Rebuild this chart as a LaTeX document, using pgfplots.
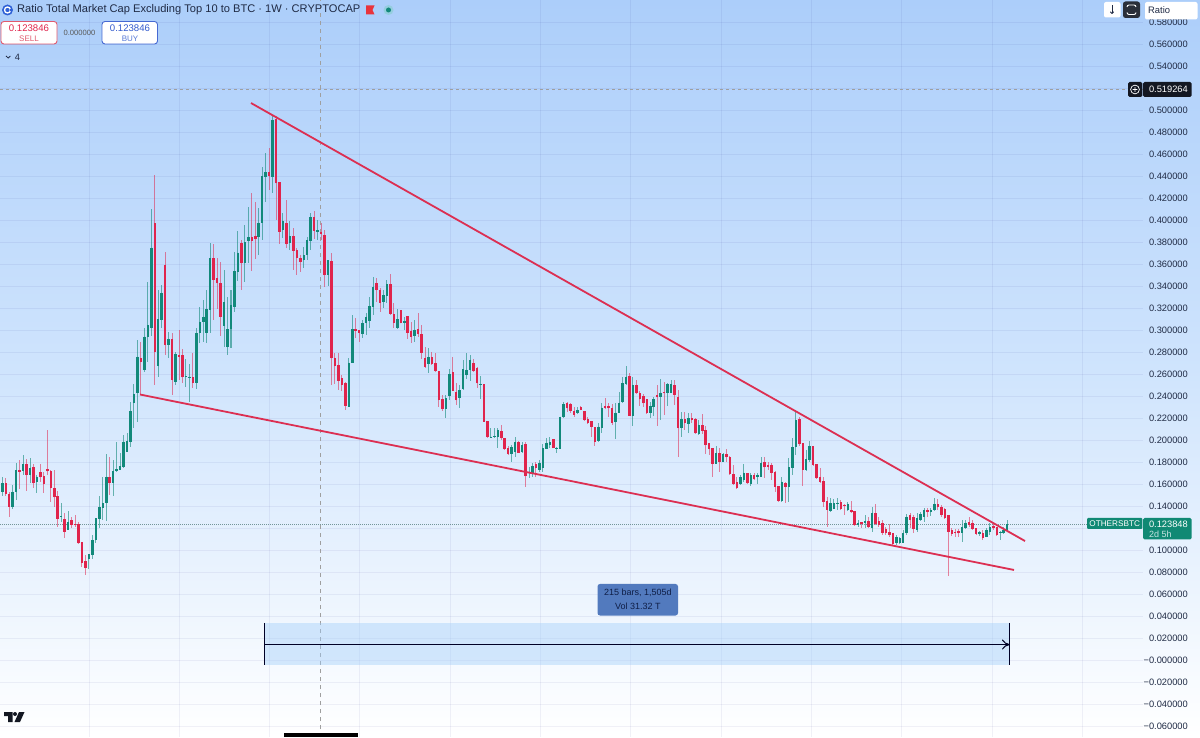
\documentclass[border=0pt]{standalone}
\usepackage{pgfplots}
\usepackage{pgfplotstable}
\usepackage{fontspec}
\setmainfont{Liberation Sans}
\pgfplotsset{compat=1.18}
\usetikzlibrary{arrows.meta}
\definecolor{upc}{HTML}{12897A}
\definecolor{dnc}{HTML}{E0244C}
\definecolor{tl}{HTML}{DC2F52}
\definecolor{txt}{HTML}{1F2A44}
\pgfplotstableread{
x o h l c
0 0.1535 0.1665 0.1495 0.1610
1 0.1610 0.1656 0.1495 0.1513
2 0.1513 0.1535 0.1307 0.1398
3 0.1392 0.1595 0.1374 0.1535
4 0.1535 0.1792 0.1459 0.1731
5 0.1731 0.1822 0.1556 0.1716
6 0.1725 0.1868 0.1686 0.1786
7 0.1786 0.1829 0.1544 0.1686
8 0.1686 0.1838 0.1610 0.1753
9 0.1762 0.1786 0.1565 0.1610
10 0.1619 0.1686 0.1525 0.1671
11 0.1716 0.1783 0.1625 0.1665
12 0.1677 0.1716 0.1520 0.1604
13 0.1738 0.2095 0.1686 0.1720
14 0.1725 0.1731 0.1444 0.1568
15 0.1568 0.1731 0.1392 0.1483
16 0.1495 0.1544 0.1210 0.1289
17 0.1301 0.1435 0.1262 0.1313
18 0.1289 0.1338 0.1110 0.1171
19 0.1186 0.1362 0.1186 0.1262
20 0.1277 0.1301 0.1201 0.1232
21 0.1241 0.1322 0.1216 0.1232
22 0.1238 0.1262 0.1059 0.1065
23 0.1080 0.1080 0.0853 0.0889
24 0.0904 0.0959 0.0777 0.0844
25 0.0920 0.0965 0.0829 0.0965
26 0.0959 0.1141 0.0920 0.1095
27 0.1095 0.1292 0.1065 0.1292
28 0.1283 0.1495 0.1207 0.1392
29 0.1383 0.1665 0.1277 0.1428
30 0.1428 0.1877 0.1271 0.1671
31 0.1671 0.1853 0.1504 0.1610
32 0.1616 0.1822 0.1495 0.1725
33 0.1725 0.1989 0.1716 0.1738
34 0.1731 0.1889 0.1731 0.1768
35 0.1762 0.2050 0.1747 0.1989
36 0.1898 0.2071 0.1898 0.1998
37 0.1990 0.2353 0.1938 0.2269
38 0.2338 0.2511 0.2111 0.2423
39 0.2429 0.2913 0.2172 0.2763
40 0.2747 0.2898 0.2414 0.2717
41 0.2641 0.3020 0.2626 0.2944
42 0.2943 0.3443 0.2716 0.3050
43 0.3020 0.4101 0.2950 0.3753
44 0.3974 0.4413 0.2504 0.2807
45 0.2677 0.3368 0.2580 0.3101
46 0.3095 0.3413 0.3019 0.3343
47 0.3595 0.3716 0.2777 0.2868
48 0.2868 0.2989 0.2747 0.2923
49 0.2923 0.2974 0.2413 0.2550
50 0.2535 0.2800 0.2505 0.2786
51 0.2777 0.3004 0.2550 0.2762
52 0.2777 0.2829 0.2520 0.2574
53 0.2574 0.2738 0.2483 0.2586
54 0.2570 0.2695 0.2353 0.2580
55 0.2574 0.2792 0.2474 0.2525
56 0.2520 0.3020 0.2465 0.2974
57 0.2974 0.3216 0.2883 0.3080
58 0.3074 0.3277 0.2898 0.3126
59 0.2974 0.3368 0.2883 0.3195
60 0.3186 0.3797 0.2974 0.3656
61 0.3656 0.3786 0.3095 0.3459
62 0.3480 0.3656 0.3192 0.3428
63 0.3428 0.3625 0.2950 0.3126
64 0.3040 0.3549 0.2853 0.3260
65 0.2853 0.3307 0.2777 0.3010
66 0.3010 0.3368 0.2838 0.3231
67 0.3216 0.3716 0.3171 0.3540
68 0.3534 0.3904 0.3449 0.3707
69 0.3792 0.3825 0.3368 0.3610
70 0.3610 0.3958 0.3440 0.3801
71 0.3816 0.4125 0.3610 0.3847
72 0.3847 0.4253 0.3543 0.3816
73 0.3859 0.4171 0.3646 0.3828
74 0.3846 0.4110 0.3686 0.3980
75 0.3980 0.4489 0.3822 0.4404
76 0.4398 0.4610 0.4171 0.4437
77 0.4437 0.4656 0.4277 0.4404
78 0.4398 0.4959 0.4253 0.4913
79 0.4919 0.4950 0.4004 0.4337
80 0.4353 0.4353 0.3786 0.3898
81 0.3913 0.4065 0.3837 0.3998
82 0.3974 0.4186 0.3747 0.3786
83 0.3792 0.3998 0.3731 0.3859
84 0.3859 0.3928 0.3550 0.3725
85 0.3731 0.3747 0.3504 0.3662
86 0.3656 0.3686 0.3534 0.3625
87 0.3641 0.3762 0.3565 0.3686
88 0.3686 0.3853 0.3640 0.3822
89 0.3816 0.4065 0.3731 0.4034
90 0.4034 0.4090 0.3828 0.3907
91 0.3898 0.4004 0.3822 0.3913
92 0.3898 0.3980 0.3822 0.3874
93 0.3868 0.3913 0.3392 0.3504
94 0.3504 0.3640 0.3404 0.3640
95 0.3631 0.3701 0.2505 0.2747
96 0.2747 0.2799 0.2514 0.2677
97 0.2686 0.2799 0.2459 0.2544
98 0.2565 0.2596 0.2453 0.2505
99 0.2520 0.2529 0.2277 0.2314
100 0.2302 0.2747 0.2302 0.2708
101 0.2708 0.3141 0.2700 0.3011
102 0.3011 0.3110 0.2929 0.2999
103 0.3005 0.3005 0.2893 0.2981
104 0.2968 0.3096 0.2929 0.3065
105 0.3065 0.3156 0.2959 0.3126
106 0.3089 0.3302 0.3020 0.3223
107 0.3217 0.3483 0.3141 0.3399
108 0.3430 0.3474 0.3262 0.3368
109 0.3368 0.3383 0.3171 0.3253
110 0.3262 0.3368 0.3201 0.3323
111 0.3314 0.3459 0.3247 0.3420
112 0.3420 0.3514 0.3141 0.3150
113 0.3150 0.3247 0.3020 0.3071
114 0.3020 0.3192 0.3014 0.3101
115 0.3186 0.3186 0.3065 0.3065
116 0.3071 0.3126 0.3005 0.3089
117 0.3132 0.3132 0.2920 0.2981
118 0.2999 0.3080 0.2890 0.2944
119 0.2950 0.3095 0.2899 0.3005
120 0.3011 0.3156 0.2938 0.2968
121 0.2968 0.3050 0.2738 0.2799
122 0.2747 0.2853 0.2656 0.2671
123 0.2695 0.2838 0.2617 0.2756
124 0.2762 0.2808 0.2686 0.2695
125 0.2708 0.2793 0.2626 0.2635
126 0.2635 0.2635 0.2308 0.2368
127 0.2374 0.2414 0.2271 0.2283
128 0.2283 0.2414 0.2202 0.2383
129 0.2405 0.2647 0.2368 0.2605
130 0.2620 0.2762 0.2450 0.2450
131 0.2444 0.2520 0.2323 0.2368
132 0.2383 0.2505 0.2292 0.2459
133 0.2468 0.2732 0.2459 0.2647
134 0.2595 0.2799 0.2556 0.2641
135 0.2641 0.2777 0.2544 0.2732
136 0.2701 0.2738 0.2626 0.2635
137 0.2662 0.2671 0.2474 0.2520
138 0.2505 0.2586 0.2374 0.2514
139 0.2514 0.2514 0.2171 0.2171
140 0.2180 0.2180 0.2026 0.2035
141 0.2026 0.2110 0.2020 0.2035
142 0.2029 0.2110 0.2020 0.2042
143 0.2029 0.2110 0.1929 0.2096
144 0.2090 0.2141 0.2005 0.2020
145 0.2020 0.2020 0.1914 0.1920
146 0.1929 0.1953 0.1868 0.1877
147 0.1877 0.1960 0.1808 0.1938
148 0.1898 0.2035 0.1853 0.1989
149 0.1989 0.1995 0.1889 0.1889
150 0.1898 0.1989 0.1889 0.1959
151 0.1968 0.1989 0.1574 0.1677
152 0.1702 0.1762 0.1656 0.1717
153 0.1702 0.1798 0.1671 0.1768
154 0.1786 0.1808 0.1671 0.1747
155 0.1732 0.1823 0.1717 0.1792
156 0.1747 0.1968 0.1717 0.1929
157 0.1923 0.2020 0.1923 0.1980
158 0.1959 0.2029 0.1929 0.1989
159 0.2011 0.2011 0.1929 0.1929
160 0.1926 0.1938 0.1889 0.1936
161 0.1926 0.2217 0.1926 0.2217
162 0.2217 0.2353 0.2202 0.2329
163 0.2338 0.2353 0.2262 0.2293
164 0.2329 0.2344 0.2247 0.2271
165 0.2271 0.2308 0.2217 0.2232
166 0.2247 0.2308 0.2241 0.2277
167 0.2308 0.2314 0.2277 0.2277
168 0.2271 0.2271 0.2180 0.2186
169 0.2192 0.2217 0.2150 0.2156
170 0.2180 0.2180 0.2035 0.2126
171 0.2126 0.2126 0.1950 0.1989
172 0.1998 0.2156 0.1989 0.2126
173 0.2117 0.2338 0.2065 0.2299
174 0.2317 0.2383 0.2290 0.2299
175 0.2314 0.2344 0.2217 0.2293
176 0.2293 0.2332 0.2141 0.2162
177 0.2171 0.2338 0.2011 0.2253
178 0.2253 0.2444 0.2247 0.2344
179 0.2353 0.2580 0.2338 0.2520
180 0.2514 0.2677 0.2505 0.2580
181 0.2586 0.2611 0.2223 0.2223
182 0.2223 0.2580 0.2135 0.2505
183 0.2505 0.2550 0.2420 0.2429
184 0.2429 0.2453 0.2314 0.2374
185 0.2405 0.2420 0.2308 0.2338
186 0.2374 0.2374 0.2241 0.2247
187 0.2247 0.2353 0.2202 0.2317
188 0.2302 0.2399 0.2223 0.2374
189 0.2414 0.2505 0.2132 0.2393
190 0.2399 0.2556 0.2187 0.2435
191 0.2444 0.2535 0.2232 0.2429
192 0.2429 0.2526 0.2314 0.2514
193 0.2435 0.2550 0.2429 0.2514
194 0.2505 0.2550 0.2323 0.2414
195 0.2399 0.2459 0.1853 0.2111
196 0.2111 0.2262 0.2035 0.2193
197 0.2193 0.2262 0.2096 0.2156
198 0.2150 0.2247 0.2071 0.2202
199 0.2202 0.2253 0.2156 0.2187
200 0.2193 0.2202 0.2059 0.2065
201 0.2059 0.2187 0.2050 0.2141
202 0.2141 0.2241 0.2059 0.2090
203 0.2096 0.2132 0.1878 0.1959
204 0.1974 0.1974 0.1868 0.1920
205 0.1929 0.1929 0.1672 0.1787
206 0.1787 0.1950 0.1787 0.1890
207 0.1890 0.1929 0.1717 0.1808
208 0.1808 0.1890 0.1808 0.1878
209 0.1878 0.1920 0.1808 0.1847
210 0.1853 0.1859 0.1687 0.1696
211 0.1696 0.1778 0.1596 0.1605
212 0.1626 0.1672 0.1556 0.1565
213 0.1605 0.1687 0.1596 0.1665
214 0.1641 0.1787 0.1626 0.1708
215 0.1702 0.1708 0.1605 0.1611
216 0.1605 0.1702 0.1587 0.1687
217 0.1687 0.1702 0.1641 0.1647
218 0.1665 0.1702 0.1605 0.1687
219 0.1672 0.1847 0.1665 0.1799
220 0.1808 0.1847 0.1656 0.1756
221 0.1778 0.1808 0.1732 0.1762
222 0.1778 0.1793 0.1641 0.1708
223 0.1717 0.1726 0.1535 0.1575
224 0.1587 0.1587 0.1444 0.1453
225 0.1453 0.1672 0.1444 0.1626
226 0.1617 0.1626 0.1435 0.1581
227 0.1581 0.1838 0.1444 0.1756
228 0.1747 0.2020 0.1687 0.1938
229 0.1938 0.2262 0.1868 0.2187
230 0.2193 0.2217 0.1950 0.1968
231 0.1974 0.1974 0.1587 0.1732
232 0.1732 0.1914 0.1726 0.1832
233 0.1823 0.1999 0.1808 0.1950
234 0.1950 0.1950 0.1768 0.1778
235 0.1787 0.1787 0.1647 0.1656
236 0.1672 0.1747 0.1617 0.1626
237 0.1635 0.1672 0.1399 0.1444
238 0.1453 0.1484 0.1217 0.1369
239 0.1362 0.1475 0.1353 0.1429
240 0.1375 0.1465 0.1375 0.1429
241 0.1423 0.1475 0.1369 0.1435
242 0.1444 0.1459 0.1369 0.1375
243 0.1414 0.1423 0.1323 0.1405
244 0.1369 0.1444 0.1362 0.1423
245 0.1369 0.1453 0.1338 0.1347
246 0.1359 0.1359 0.1223 0.1232
247 0.1232 0.1278 0.1211 0.1253
248 0.1259 0.1263 0.1202 0.1241
249 0.1253 0.1323 0.1202 0.1272
250 0.1272 0.1308 0.1202 0.1211
251 0.1202 0.1399 0.1172 0.1344
252 0.1344 0.1423 0.1232 0.1241
253 0.1272 0.1308 0.1217 0.1232
254 0.1247 0.1278 0.1141 0.1163
255 0.1193 0.1217 0.1141 0.1156
256 0.1172 0.1241 0.1126 0.1141
257 0.1156 0.1163 0.1050 0.1060
258 0.1066 0.1141 0.1050 0.1120
259 0.1072 0.1126 0.1060 0.1111
260 0.1072 0.1187 0.1066 0.1163
261 0.1156 0.1332 0.1141 0.1308
262 0.1323 0.1344 0.1202 0.1278
263 0.1308 0.1323 0.1156 0.1193
264 0.1187 0.1338 0.1172 0.1293
265 0.1278 0.1353 0.1272 0.1332
266 0.1302 0.1384 0.1263 0.1369
267 0.1369 0.1384 0.1302 0.1353
268 0.1353 0.1384 0.1314 0.1369
269 0.1369 0.1475 0.1362 0.1423
270 0.1423 0.1465 0.1369 0.1393
271 0.1399 0.1414 0.1302 0.1323
272 0.1378 0.1384 0.1284 0.1293
273 0.1323 0.1323 0.0769 0.1172
274 0.1187 0.1202 0.1132 0.1150
275 0.1172 0.1193 0.1126 0.1156
276 0.1181 0.1193 0.1126 0.1156
277 0.1156 0.1278 0.1081 0.1217
278 0.1202 0.1278 0.1193 0.1253
279 0.1263 0.1302 0.1217 0.1232
280 0.1247 0.1278 0.1187 0.1193
281 0.1202 0.1202 0.1141 0.1150
282 0.1150 0.1181 0.1132 0.1172
283 0.1163 0.1187 0.1096 0.1111
284 0.1126 0.1202 0.1120 0.1187
285 0.1172 0.1247 0.1141 0.1217
286 0.1226 0.1247 0.1187 0.1202
287 0.1211 0.1217 0.1132 0.1141
288 0.1156 0.1181 0.1096 0.1172
289 0.1163 0.1217 0.1150 0.1187
290 0.1181 0.1278 0.1172 0.1238
}\candles
\begin{document}
\begin{tikzpicture}
\path[use as bounding box] (0,0) rectangle (1200pt,737pt);
\shade[top color={rgb,255:red,172;green,206;blue,250}, bottom color=white, middle color={rgb,255:red,207;green,228;blue,253}]
  (0,0) rectangle (1200pt,737pt);
\begin{axis}[
  at={(0,0)}, anchor=south west, scale only axis,
  width=1143pt, height=737pt,
  xmin=-0.664, xmax=329.2,
  ymin=-0.06955, ymax=0.60045,
  axis line style={draw=none},
  tick style={draw=none},
  xtick={25,51.06,77.12,103.18,129.24,155.3,181.36,207.42,233.48,259.54,285.6,311.66},
  xticklabels={},
  ytick={-0.06,-0.04,-0.02,0,0.02,0.04,0.06,0.08,0.1,0.12,0.14,0.16,0.18,0.2,0.22,0.24,0.26,0.28,0.3,0.32,0.34,0.36,0.38,0.4,0.42,0.44,0.46,0.48,0.5,0.52,0.54,0.56,0.58},
  yticklabels={−0.060000,−0.040000,−0.020000,−0.000000,0.020000,0.040000,0.060000,0.080000,0.100000,,0.140000,0.160000,0.180000,0.200000,0.220000,0.240000,0.260000,0.280000,0.300000,0.320000,0.340000,0.360000,0.380000,0.400000,0.420000,0.440000,0.460000,0.480000,0.500000,,0.540000,0.560000,0.580000},
  yticklabel pos=right,
  yticklabel style={anchor=east, xshift=45pt, font=\fontsize{9.3}{10}\selectfont, text=txt, inner xsep=0pt, inner ysep=0pt},
  grid=major,
  grid style={draw=blue!45!black, opacity=0.055, line width=0.8pt},
  clip=true,
]
% last price and crosshair
\addplot[forget plot, draw=gray!70!teal, opacity=.8, line width=0.9pt, dash pattern=on 1pt off 1pt] coordinates {(-0.664,0.1238) (313,0.1238)};
\addplot[forget plot, draw=gray!75, line width=0.8pt, dash pattern=on 3pt off 3pt] coordinates {(-0.664,0.519264) (329.2,0.519264)};
\addplot[forget plot, draw=gray!75, line width=1pt, dash pattern=on 4pt off 4pt] coordinates {(91.82,-0.06955) (91.82,0.60045)};
% date range tool
\addplot[forget plot, fill={rgb,255:red,160;green,205;blue,250}, fill opacity=0.42, draw=none] coordinates {(75.8,0.0341) (290.8,0.0341) (290.8,-0.0041) (75.8,-0.0041)} --cycle;
\addplot[forget plot, draw=black!85!blue, line width=1pt, -{To[length=8pt,width=10pt]}] coordinates {(75.8,0.0145) (290.8,0.0145)};
\addplot[forget plot, draw=black!85!blue, line width=1pt] coordinates {(75.8,0.0341) (75.8,-0.0041)};
\addplot[forget plot, draw=black!85!blue, line width=1pt] coordinates {(290.8,0.0341) (290.8,-0.0041)};
% wicks
\addplot[forget plot, draw=none, no marks, error bars/.cd, y dir=both, y explicit, error mark=none,
  error bar style={line width=1pt, draw=upc, opacity=0.6}]
  table[x expr={ifthenelse(\thisrow{c}>=\thisrow{o},\thisrow{x},nan)}, y=c,
        y error plus expr=\thisrow{h}-\thisrow{c}, y error minus expr=\thisrow{c}-\thisrow{l}] {\candles};
\addplot[forget plot, draw=none, no marks, error bars/.cd, y dir=both, y explicit, error mark=none,
  error bar style={line width=1pt, draw=dnc, opacity=0.55}]
  table[x expr={ifthenelse(\thisrow{c}<\thisrow{o},\thisrow{x},nan)}, y=c,
        y error plus expr=\thisrow{h}-\thisrow{c}, y error minus expr=\thisrow{c}-\thisrow{l}] {\candles};
% bodies
\addplot[forget plot, draw=none, no marks, error bars/.cd, y dir=minus, y explicit, error mark=none,
  error bar style={line width=2.5pt, draw=upc}]
  table[x expr={ifthenelse(\thisrow{c}>=\thisrow{o},\thisrow{x},nan)}, y=c,
        y error minus expr=\thisrow{c}-\thisrow{o}] {\candles};
\addplot[forget plot, draw=none, no marks, error bars/.cd, y dir=plus, y explicit, error mark=none,
  error bar style={line width=2.5pt, draw=dnc}]
  table[x expr={ifthenelse(\thisrow{c}<\thisrow{o},\thisrow{x},nan)}, y=c,
        y error plus expr=\thisrow{o}-\thisrow{c}] {\candles};
% wedge trendlines
\addplot[forget plot, draw=tl, line width=1.8pt] coordinates {(71.77,0.5068) (295.15,0.1086)};
\addplot[forget plot, draw=tl, line width=1.8pt] coordinates {(39.74,0.2418) (291.98,0.0823)};
\end{axis}
\begin{scope}[shift={(0,737pt)}, x=1pt, y=-1pt, every node/.style={inner sep=0pt, text=txt}]
% header
\fill[fill={rgb,255:red,47;green,96;blue,214}] (7.5,10) circle (5.5);
\draw[white, line width=1.3pt] (7.5,10) circle (3);
\fill[fill={rgb,255:red,47;green,96;blue,214}] (9.6,9) rectangle (11.5,11);
\node[anchor=west, font=\fontsize{11.1}{13}\selectfont] at (17,10) {Ratio Total Market Cap Excluding Top 10 to BTC · 1W · CRYPTOCAP};
\fill[fill={rgb,255:red,232;green,52;blue,60}] (366,5.5) -- (374.5,5.5) -- (372.5,10) -- (374.5,14.5) -- (366,14.5) -- cycle;
\fill[fill={rgb,255:red,120;green,205;blue,190}, opacity=.45] (388.5,10) circle (5);
\fill[fill=upc] (388.5,10) circle (2.5);
\draw[fill=white, draw={rgb,255:red,225;green,90;blue,110}, line width=.9pt, rounded corners=3pt] (1,21.5) rectangle (57,44);
\node[font=\fontsize{9.6}{10}\selectfont, text=dnc] at (29,28.5) {0.123846};
\node[font=\fontsize{8}{9}\selectfont, text={rgb,255:red,225;green,90;blue,110}] at (29,38.5) {SELL};
\node[font=\fontsize{7.6}{8}\selectfont, text=black!65] at (79.5,33) {0.000000};
\draw[fill=white, draw={rgb,255:red,70;green,105;blue,210}, line width=.9pt, rounded corners=3pt] (102,21.5) rectangle (157.5,44);
\node[font=\fontsize{9.6}{10}\selectfont, text={rgb,255:red,50;green,90;blue,205}] at (130,28.5) {0.123846};
\node[font=\fontsize{8}{9}\selectfont, text={rgb,255:red,85;green,120;blue,215}] at (130,38.5) {BUY};
\draw[txt, line width=.8pt] (6,56) -- (8.2,58) -- (10.4,56);
\node[font=\fontsize{9.2}{10}\selectfont] at (17.5,57.5) {4};
% top right controls
\fill[white, rounded corners=2pt] (1104,2) rectangle (1120.5,17.5);
\draw[txt, line width=.8pt, -{To[length=2.5pt,width=4pt]}] (1112,5.5) -- (1112,14);
\fill[fill={rgb,255:red,42;green,46;blue,57}, rounded corners=2.5pt] (1123,1.5) rectangle (1140,18);
\draw[white, line width=.9pt, rounded corners=2pt] (1127,7) -- (1127,5) -- (1136,5) -- (1136,7) (1127,12.5) -- (1127,14.5) -- (1136,14.5) -- (1136,12.5);
\fill[white, rounded corners=2pt] (1145,2) rectangle (1197.5,19.5);
\node[anchor=west, font=\fontsize{9.4}{10}\selectfont] at (1148,10) {Ratio};
% crosshair price
\fill[fill={rgb,255:red,19;green,23;blue,34}, rounded corners=1.5pt] (1128,82) rectangle (1142.4,97);
\fill[fill={rgb,255:red,19;green,23;blue,34}, rounded corners=1.5pt] (1143,82) rectangle (1191.5,97);
\draw[white, line width=.7pt] (1135,89.5) circle (4.4) (1132.6,89.5) -- (1137.4,89.5) (1135,87.1) -- (1135,91.9);
\node[anchor=east, font=\fontsize{9.3}{10}\selectfont, text=white] at (1188,89.7) {0.519264};
% last price
\fill[fill={rgb,255:red,16;green,137;blue,116}, rounded corners=1pt] (1087,518) rectangle (1142.4,529);
\node[font=\fontsize{8.2}{9}\selectfont, text=white] at (1114.7,523.7) {OTHERSBTC};
\fill[fill={rgb,255:red,16;green,137;blue,116}, rounded corners=1.5pt] (1143,518) rectangle (1191.5,539.5);
\node[anchor=east, font=\fontsize{9.3}{10}\selectfont, text=white] at (1188,524) {0.123848};
\node[anchor=west, font=\fontsize{9}{10}\selectfont, text=white!78!teal] at (1149,534) {2d 5h};
% range label
\fill[fill={rgb,255:red,82;green,122;blue,190}, rounded corners=2.5pt] (597.5,584) rectangle (678,615.5);
\node[font=\fontsize{9}{9}\selectfont, text={rgb,255:red,15;green,30;blue,70}] at (637.8,593) {215 bars, 1,505d};
\node[font=\fontsize{9}{9}\selectfont, text={rgb,255:red,15;green,30;blue,70}] at (637.8,606.5) {Vol 31.32 T};
% logo and cover
\fill[fill={rgb,255:red,19;green,23;blue,34}] (4,712) -- (12.5,712) -- (12.5,722) -- (8,722) -- (8,716) -- (4,716) -- cycle;
\fill[fill={rgb,255:red,19;green,23;blue,34}] (15,714) circle (2);
\fill[fill={rgb,255:red,19;green,23;blue,34}] (19,712) -- (24.5,712) -- (20,722) -- (14.5,722) -- cycle;
\fill[black] (284,733) rectangle (358,737);
\end{scope}
\end{tikzpicture}
\end{document}
